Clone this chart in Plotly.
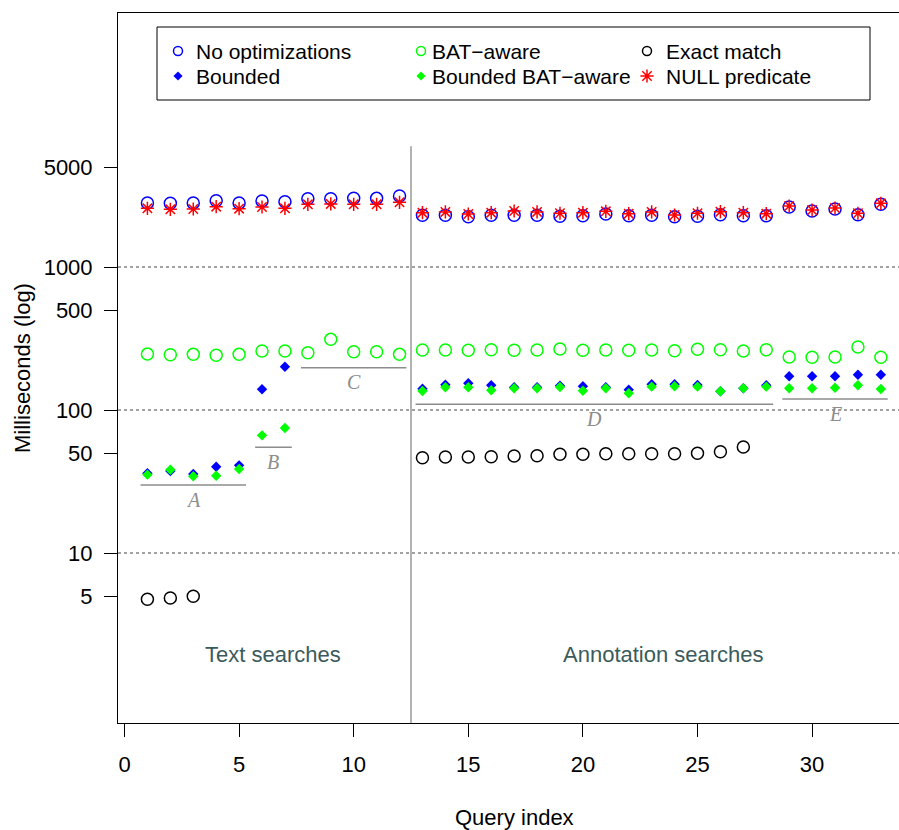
import math
import plotly.graph_objects as go

# ---------------- data ----------------
query_index = list(range(1, 34))

no_optimizations = [2800, 2790, 2800, 2908, 2800, 2894, 2861, 3003, 3000, 3023, 3020, 3137,
                    2298, 2298, 2247, 2300, 2300, 2300, 2262, 2284, 2348, 2284, 2300, 2247,
                    2262, 2321, 2284, 2284, 2628, 2464, 2545, 2321, 2745]

bounded = [36.1, 37.4, 35.7, 40.1, 41.0, 139.6, 200.8, None, None, None, None, None,
           140.9, 150.3, 153.7, 148.8, 144.1, 144.1, 147.9, 146.5, 144.1, 138.7, 151.2, 151.2,
           149.6, 135.1, 141.8, 148.8, 172.1, 172.1, 172.1, 176.5, 176.5]

bat_aware = [246, 243.6, 245, 241.5, 245, 258.6, 258.6, 251.6, 312, 255.7, 255.7, 245,
             262.8, 262.8, 261.5, 264.1, 261.5, 262.8, 267, 261.5, 262.8, 261.5, 262.8, 259.8,
             265.8, 264.1, 258.6, 264.1, 234.8, 233.7, 234.8, 275.8, 233.7]

bounded_bat_aware = [35.3, 38.2, 34.4, 34.7, 38.7, 66.5, 74.8, None, None, None, None, None,
                     135.8, 144.1, 144.1, 137.3, 141.8, 141.8, 144.8, 136.4, 141.8, 130.9, 145.6, 146.5,
                     145.6, 135.1, 141.8, 145.6, 141.8, 141.8, 143.2, 148.8, 140.2]

exact_match = [4.75, 4.84, 4.98, None, None, None, None, None, None, None, None, None,
               46.4, 46.9, 46.9, 47.1, 47.7, 47.9, 49.0, 49.0, 49.5, 49.5, 49.5, 49.5,
               49.8, 51.1, 55.1, None, None, None, None, None, None]

null_predicate = [2574, 2533, 2545, 2641, 2557, 2628, 2574, 2745, 2760, 2745, 2745, 2834,
                  2398, 2426, 2348, 2398, 2464, 2426, 2376, 2398, 2452, 2360, 2426, 2310,
                  2376, 2436, 2398, 2360, 2671, 2504, 2585, 2376, 2790]

# groups (first and last query of each group, level of the bar, level of the label)
group_names = ["A", "B", "C", "D", "E"]
group_first = [1, 6, 8, 13, 29]
group_last = [5, 7, 12, 28, 33]
group_line_ms = [29.9, 54.8, 197.8, 109.6, 119.4]
group_label_ms = [23.5, 43.3, 157, 86.5, 93.8]

section_names = ["Text searches", "Annotation searches"]
section_x = [6.5, 23.5]
section_ms = 1.94
separator_x = 12.5
separator_top_ms = 7000
grid_ms = [10, 100, 1000]

y_ticks = [5, 10, 50, 100, 500, 1000, 5000]
x_ticks = [0, 5, 10, 15, 20, 25, 30]

series = [
    ("No optimizations", no_optimizations, "circle-open", "#0000FF", 12, 1.5),
    ("Bounded", bounded, "diamond", "#0000FF", 8, 0),
    ("BAT\u2212aware", bat_aware, "circle-open", "#00FF00", 12, 1.5),
    ("Bounded BAT\u2212aware", bounded_bat_aware, "diamond", "#00FF00", 8, 0),
    ("Exact match", exact_match, "circle-open", "#000000", 12, 1.5),
    ("NULL predicate", null_predicate, "asterisk-open", "#FF0000", 11, 1.5),
]

FONT = "Liberation Sans, Arial, Helvetica, sans-serif"
W, H = 899, 830
ML, MT, MB = 118, 13, 107

fig = go.Figure()

for name, vals, sym, col, size, lw in series:
    fig.add_trace(go.Scatter(
        x=query_index, y=vals, mode="markers", name=name, showlegend=False,
        marker=dict(symbol=sym, size=size, color=col,
                    line=dict(color=col, width=lw)),
    ))

shapes = []
# dotted grid lines
for g in grid_ms:
    shapes.append(dict(type="line", xref="paper", yref="y", x0=0, x1=1, y0=g, y1=g,
                       line=dict(color="#444444", width=1, dash="dot"), layer="below"))
# separator
shapes.append(dict(type="line", xref="x", yref="y", x0=separator_x, x1=separator_x,
                   y0=0.64, y1=separator_top_ms, line=dict(color="#999999", width=1.5)))
# group bars
annotations = []
for nm, a, b, ly, ty in zip(group_names, group_first, group_last, group_line_ms, group_label_ms):
    shapes.append(dict(type="line", xref="x", yref="y", x0=a - 0.3, x1=b + 0.3, y0=ly, y1=ly,
                       line=dict(color="#8c8c8c", width=1.5)))
    annotations.append(dict(x=(a + b) / 2, y=math.log10(ty), xref="x", yref="y",
                            text="<i>%s</i>" % nm, xanchor="center", yanchor="middle",
                            showarrow=False, font=dict(family="Liberation Serif, serif", size=20,
                                                       color="#8c8c8c")))
for nm, sx in zip(section_names, section_x):
    annotations.append(dict(x=sx, y=math.log10(section_ms), xref="x", yref="y", text=nm,
                            showarrow=False, xanchor="center", yanchor="middle",
                            font=dict(family=FONT, size=22, color="#3b5b5b")))

# axis titles
annotations.append(dict(x=(514 - ML) / (W - ML), y=(H - MB - 817) / (H - MT - MB), xref="paper",
                        yref="paper", text="Query index", showarrow=False,
                        xanchor="center", yanchor="middle",
                        font=dict(family=FONT, size=22, color="black")))
annotations.append(dict(x=(22 - ML) / (W - ML), y=0.5, xref="paper", yref="paper",
                        text="Milliseconds (log)", textangle=-90, showarrow=False,
                        xanchor="center", yanchor="middle",
                        font=dict(family=FONT, size=22, color="black")))

# ---- legend drawn on an overlay pixel axis ----
legend_cols_sym = [178, 421, 647]
legend_cols_txt = [194, 430, 664]
legend_rows = [51, 76]
legend_order = [[0, 1], [2, 3], [4, 5]]
shapes.append(dict(type="rect", xref="x2", yref="y2", x0=157, x1=870, y0=27, y1=100,
                   line=dict(color="black", width=1), fillcolor="white", layer="below"))
for ci, idxs in enumerate(legend_order):
    for ri, si in enumerate(idxs):
        name, vals, sym, col, size, lw = series[si]
        lsize = {"circle-open": 9, "diamond": 7, "asterisk-open": 11}[sym]
        fig.add_trace(go.Scatter(
            x=[legend_cols_sym[ci]], y=[legend_rows[ri]], xaxis="x2", yaxis="y2",
            mode="markers", showlegend=False, hoverinfo="skip",
            marker=dict(symbol=sym, size=lsize, color=col,
                        line=dict(color=col, width=1.5 if lw else 0))))
        annotations.append(dict(x=legend_cols_txt[ci], y=legend_rows[ri], xref="x2", yref="y2",
                                text=name, showarrow=False, xanchor="left", yanchor="middle",
                                font=dict(family=FONT, size=21, color="black")))

x_lo = (ML - 124.5) / 22.92
x_hi = (W - 124.5) / 22.92
y_lo = 2 - (723 - 410) / 143
y_hi = 2 + (410 - 13) / 143

fig.update_layout(
    width=W, height=H,
    margin=dict(l=ML, r=0, t=MT, b=MB, pad=0),
    paper_bgcolor="white", plot_bgcolor="white",
    font=dict(family=FONT, size=22, color="black"),
    showlegend=False,
    xaxis=dict(range=[x_lo, x_hi], tickvals=x_ticks, ticks="outside", ticklen=13,
               tickwidth=1, tickcolor="black", showline=True, linecolor="black", linewidth=1,
               mirror=True, showgrid=False, zeroline=False,
               tickfont=dict(family=FONT, size=22), ticklabelstandoff=9),
    yaxis=dict(type="log", range=[y_lo, y_hi], tickvals=y_ticks,
               ticktext=[str(v) for v in y_ticks], ticks="outside", ticklen=13,
               tickwidth=1, tickcolor="black", showline=True, linecolor="black", linewidth=1,
               showgrid=False, zeroline=False,
               tickfont=dict(family=FONT, size=22), ticklabelstandoff=7),
    xaxis2=dict(range=[ML, W], overlaying="x", visible=False, fixedrange=True),
    yaxis2=dict(range=[H - MB, MT], overlaying="y", visible=False, fixedrange=True),
    shapes=shapes,
    annotations=annotations,
)

fig.write_html("out.html")
